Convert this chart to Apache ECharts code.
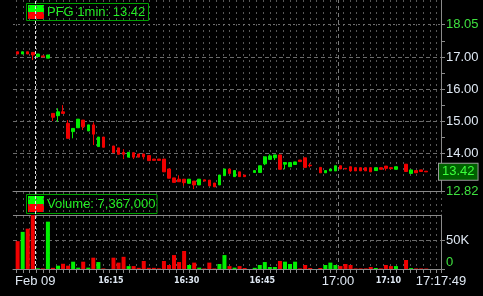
<!DOCTYPE html>
<html><head><meta charset="utf-8">
<script src="https://cdn.jsdelivr.net/npm/echarts@6/dist/echarts.min.js"></script>
<style>html,body{margin:0;padding:0;background:#000;}#c{width:483px;height:296px;}</style>
</head><body><div id="c"></div>
<script>
// minutes relative to 16:00 (bar start)
const minutes = [-4,-3,-2,-1,0,1,2,3,4,5,6,7,8,9,10,11,12,13,15,16,17,18,19,20,21,22,23,24,25,26,27,28,29,30,31,32,33,34,35,36,37,38,39,40,41,43,44,45,46,47,48,49,50,51,52,53,54,56,57,58,59,60,61,62,63,64,65,66,67,68,69,70,71,73,74,75,76,77];
const opens  = [17.18,17.11,17.18,17.16,17.03,17.05,16.98,15.25,15.18,15.30,14.94,14.68,14.80,15.04,14.70,14.89,14.21,14.51,14.23,14.17,14.03,13.88,14.02,13.98,13.98,13.93,13.82,13.82,13.82,13.51,13.23,13.19,13.19,13.06,13.13,13.01,13.17,13.16,13.07,13.01,13.30,13.51,13.27,13.42,13.32,13.40,13.40,13.67,13.81,13.86,13.95,13.66,13.58,13.65,13.79,13.86,13.63,13.56,13.39,13.45,13.45,13.61,13.53,13.58,13.55,13.55,13.55,13.55,13.46,13.55,13.60,13.55,13.50,13.66,13.37,13.46,13.48,13.44];
const closes = [17.11,17.18,17.11,17.08,17.11,17.02,17.08,15.13,15.30,15.25,14.47,14.78,15.07,14.83,14.89,14.60,14.51,14.19,14.02,13.97,13.97,14.03,13.88,13.88,13.89,13.77,13.78,13.78,13.42,13.22,13.09,13.11,13.08,13.19,13.01,13.19,13.13,12.98,12.95,13.32,13.51,13.37,13.46,13.27,13.27,13.46,13.61,13.89,13.92,13.95,13.50,13.71,13.71,13.73,13.74,13.56,13.61,13.39,13.46,13.51,13.61,13.51,13.51,13.45,13.45,13.45,13.45,13.42,13.55,13.50,13.53,13.52,13.58,13.43,13.48,13.39,13.43,13.42];
const lows   = [17.11,17.11,17.11,16.92,17.03,17.02,16.98,15.01,14.99,15.25,14.47,14.47,14.80,14.73,14.70,14.26,14.21,14.19,14.02,13.97,13.82,13.88,13.82,13.88,13.81,13.77,13.78,13.78,13.42,13.22,13.09,13.11,12.98,13.06,12.88,13.01,13.13,12.98,12.95,13.01,13.30,13.37,13.27,13.27,13.27,13.40,13.40,13.63,13.81,13.79,13.50,13.50,13.58,13.65,13.74,13.56,13.56,13.39,13.39,13.45,13.45,13.51,13.51,13.42,13.45,13.45,13.45,13.42,13.46,13.50,13.46,13.52,13.50,13.43,13.37,13.39,13.43,13.42];
const highs  = [17.18,17.18,17.18,17.16,17.11,17.05,17.08,15.25,15.41,15.51,15.04,14.78,15.07,15.04,14.89,14.97,14.51,14.51,14.23,14.17,14.13,14.03,14.02,13.98,13.98,13.93,13.82,13.82,13.82,13.51,13.23,13.31,13.19,13.19,13.13,13.19,13.17,13.16,13.07,13.32,13.51,13.51,13.46,13.42,13.32,13.46,13.61,13.89,13.97,13.95,13.95,13.71,13.71,13.73,13.79,13.86,13.69,13.56,13.46,13.51,13.61,13.61,13.53,13.58,13.55,13.55,13.55,13.55,13.55,13.55,13.60,13.55,13.58,13.66,13.48,13.46,13.48,13.44];
const volumes = [48000,64000,69500,93000,1200,1000,81600,2000,5700,9000,5700,12600,2300,12600,2300,19500,12000,1000,19500,11000,21000,5000,5000,2000,13800,2000,2000,1200,13800,6900,24000,12000,31000,6900,11000,2300,1000,11000,1000,8600,24000,5000,2300,5000,1700,2000,6900,12000,3400,3400,13800,12600,8600,12600,1000,6900,1700,1700,6900,11000,6900,5000,8600,6900,1000,1000,1000,3400,1700,1000,6900,5000,5000,15500,1500,1000,1000,800];

const priceTicks = [12.82, 14, 15, 16, 17, 18.05];
const priceMinorTicks = [13.5, 14.5, 15.5, 16.5, 17.5];
const volTicks = [0, 50000];
const timeTickVals = [0, 15, 30, 45, 60, 70];
const timeTickLabels = ['Feb 09', '16:15', '16:30', '16:45', '17:00', '17:10'];
const lastTimeLabel = '17:17:49';
const lastPrice = 13.42;
const symbolTitle = 'PFG 1min';
const volumeTotal = '7,367,000';

// ---- layout constants ----
const T_MIN = -4.42, T_MAX = 80.43;
const P_MIN = 12.82, P_MAX = 12.82 + 191 / (167 / 5.23);
const V_MAX = 93100;
const UP = '#00f000', DOWN = '#f00000';
const FONT = 'Liberation Sans, Arial, sans-serif';
const LABEL_W = '#dfe8f3', LABEL_G = '#3fe03f';

const candleData = minutes.map((m, i) => [m + 0.5, opens[i], closes[i], lows[i], highs[i]]);
const volData = minutes.map((m, i) => ({
  value: [m + 0.5, volumes[i]],
  itemStyle: { color: closes[i] > opens[i] ? UP : DOWN }
}));

const hLineStyle = { color: '#6c6c6c', type: [4, 3], width: 1 };
const frameColor = '#8a8a8a';

const chart = echarts.init(document.getElementById('c'), null, { renderer: 'canvas' });
chart.setOption({
  backgroundColor: '#000',
  animation: false,
  grid: [
    { left: 16.3, right: 42, top: 0, bottom: 27, outerBoundsMode: 'none' },
    { left: 13, right: 42, top: 0, bottom: 27, outerBoundsMode: 'none' },
    { left: 13, right: 42, top: 0, height: 191, outerBoundsMode: 'none' },
    { left: 13, right: 42, top: 215, bottom: 27, outerBoundsMode: 'none' }
  ],
  xAxis: [
    { gridIndex: 0, type: 'value', min: 0, max: 424.7, interval: 6.67,
      axisLine: { show: false }, axisLabel: { show: false },
      axisTick: { show: true, length: 4, lineStyle: { color: frameColor } },
      splitLine: { show: true, lineStyle: { color: '#585858', type: [2, 4], width: 1 } } },
    { gridIndex: 1, type: 'value', min: T_MIN, max: T_MAX, show: false },
    { gridIndex: 2, type: 'value', min: T_MIN, max: T_MAX,
      axisLine: { show: true, onZero: false, lineStyle: { color: frameColor } },
      axisTick: { show: false }, axisLabel: { show: false }, splitLine: { show: false } },
    { gridIndex: 3, type: 'value', min: T_MIN, max: T_MAX,
      axisLine: { show: true, onZero: false, lineStyle: { color: frameColor } },
      axisTick: { show: false }, splitLine: { show: false },
      axisLabel: {
        show: true, margin: 6, verticalAlign: 'top',
        customValues: timeTickVals.concat([T_MAX]),
        formatter: function (v) {
          let lab = null;
          const idx = timeTickVals.findIndex(t => Math.abs(t - v) < 1e-6);
          if (idx >= 0) lab = timeTickLabels[idx];
          else if (Math.abs(v - T_MAX) < 1e-3) lab = lastTimeLabel;
          if (lab == null) return '';
          const big = lab === timeTickLabels[0] || lab === lastTimeLabel || /:00$/.test(lab);
          return big ? '{b|' + lab + '}' : '{s|' + lab + '}';
        },
        rich: {
          b: { fontFamily: FONT, fontSize: 13, color: LABEL_W },
          s: { fontFamily: 'DejaVu Sans, sans-serif', fontSize: 8, fontWeight: 'bold', color: LABEL_W, padding: [2, 0, 0, 0] }
        }
      } }
  ],
  yAxis: [
    { gridIndex: 0, type: 'value', min: 0, max: 1, show: false },
    { gridIndex: 1, type: 'value', min: 0, max: 1, show: false },
    { gridIndex: 2, type: 'value', position: 'right', min: P_MIN, max: P_MAX,
      axisLine: { show: true, onZero: false, lineStyle: { color: frameColor } },
      axisTick: { show: true, length: 4, customValues: priceTicks.concat(priceMinorTicks), lineStyle: { color: frameColor } },
      splitLine: { show: false },
      axisLabel: {
        show: true, margin: 5, customValues: priceTicks,
        formatter: function (v) {
          const s = v.toFixed(2);
          const edge = Math.abs(v - priceTicks[0]) < 1e-6 || Math.abs(v - priceTicks[priceTicks.length - 1]) < 1e-6;
          return edge ? '{g|' + s + '}' : '{w|' + s + '}';
        },
        rich: {
          g: { fontFamily: FONT, fontSize: 13, color: LABEL_G },
          w: { fontFamily: FONT, fontSize: 13, color: LABEL_W }
        }
      } },
    { gridIndex: 3, type: 'value', position: 'right', min: 0, max: V_MAX,
      axisLine: { show: true, onZero: false, lineStyle: { color: frameColor } },
      axisTick: { show: true, length: 4, customValues: volTicks, lineStyle: { color: frameColor } },
      splitLine: { show: false },
      axisLabel: {
        show: true, margin: 5, customValues: volTicks,
        formatter: function (v) {
          return v === 0 ? '{z|0}' : '{w|' + Math.round(v / 1000) + 'K}';
        },
        rich: {
          z: { fontFamily: FONT, fontSize: 13, color: LABEL_G, padding: [0, 0, 14, 0] },
          w: { fontFamily: FONT, fontSize: 13, color: LABEL_W }
        }
      } }
  ],
  series: [
    { type: 'line', xAxisIndex: 0, yAxisIndex: 0, data: [], silent: true },
    { type: 'line', xAxisIndex: 1, yAxisIndex: 1, data: [], silent: true,
      markLine: { silent: true, symbol: ['none', 'none'], label: { show: false }, animation: false,
        data: [
          { xAxis: timeTickVals[0], lineStyle: { color: '#e6e6e6', type: [3, 2], width: 1 } },
          { xAxis: timeTickVals[4], lineStyle: { color: '#7a7a7a', type: [4, 3], width: 1 } }
        ] } },
    { type: 'candlestick', xAxisIndex: 2, yAxisIndex: 2, data: candleData,
      encode: { x: 0, y: [1, 2, 3, 4] }, barWidth: 3, silent: true, z: 5,
      itemStyle: { color: UP, color0: DOWN, borderColor: UP, borderColor0: DOWN, borderWidth: 1 },
      markLine: { silent: true, symbol: ['none', 'none'], label: { show: false }, animation: false, z: 1,
        data: priceTicks.slice(1, priceTicks.length - 1).map(v => ({ yAxis: v, lineStyle: hLineStyle }))
          .concat([{ yAxis: priceTicks[priceTicks.length - 1], lineStyle: { color: '#6c6c6c', type: [2, 3], width: 1 } }]) } },
    { type: 'line', xAxisIndex: 2, yAxisIndex: 2, data: [], silent: true, z: 20,
      markLine: { silent: true, symbol: ['none', 'none'], animation: false,
        lineStyle: { color: 'rgba(0,0,0,0)', width: 0 },
        data: [{ yAxis: lastPrice }],
        label: { show: true, position: 'end', distance: -2, formatter: lastPrice.toFixed(2),
          fontFamily: FONT, fontSize: 13, color: '#3cff3c', backgroundColor: '#006000',
          borderColor: '#9a9a9a', borderWidth: 1, padding: [2, 3, 1, 3] } } },
    { type: 'bar', xAxisIndex: 3, yAxisIndex: 3, data: volData, barWidth: 4, silent: true, z: 5,
      markLine: { silent: true, symbol: ['none', 'none'], label: { show: false }, animation: false, z: 1,
        data: [
          { yAxis: volTicks[1], lineStyle: hLineStyle },
          { yAxis: V_MAX, lineStyle: { color: frameColor, type: 'solid', width: 1 } }
        ] } }
  ],
  graphic: [
    { type: 'group', z: 100, children: [
      { type: 'rect', shape: { x: 26.5, y: 3.5, width: 122, height: 17 }, style: { fill: '#000', stroke: '#00a000', lineWidth: 1 } },
      { type: 'rect', shape: { x: 28, y: 5, width: 16, height: 7 }, style: { fill: '#00ff00' } },
      { type: 'rect', shape: { x: 28, y: 12, width: 16, height: 7 }, style: { fill: '#ff0000' } },
      { type: 'text', x: 47, y: 12, style: { text: symbolTitle + ': ' + lastPrice.toFixed(2), fill: '#22f022', font: '13px ' + FONT, verticalAlign: 'middle' } }
    ] },
    { type: 'group', z: 100, children: [
      { type: 'rect', shape: { x: 26.5, y: 194.5, width: 130.5, height: 19 }, style: { fill: '#000', stroke: '#00a000', lineWidth: 1 } },
      { type: 'rect', shape: { x: 28, y: 196, width: 16, height: 8 }, style: { fill: '#00ff00' } },
      { type: 'rect', shape: { x: 28, y: 204, width: 16, height: 8 }, style: { fill: '#ff0000' } },
      { type: 'text', x: 47, y: 204, style: { text: 'Volume: ' + volumeTotal, fill: '#22f022', font: '13px ' + FONT, verticalAlign: 'middle' } }
    ] }
  ]
});
</script>
</body></html>
